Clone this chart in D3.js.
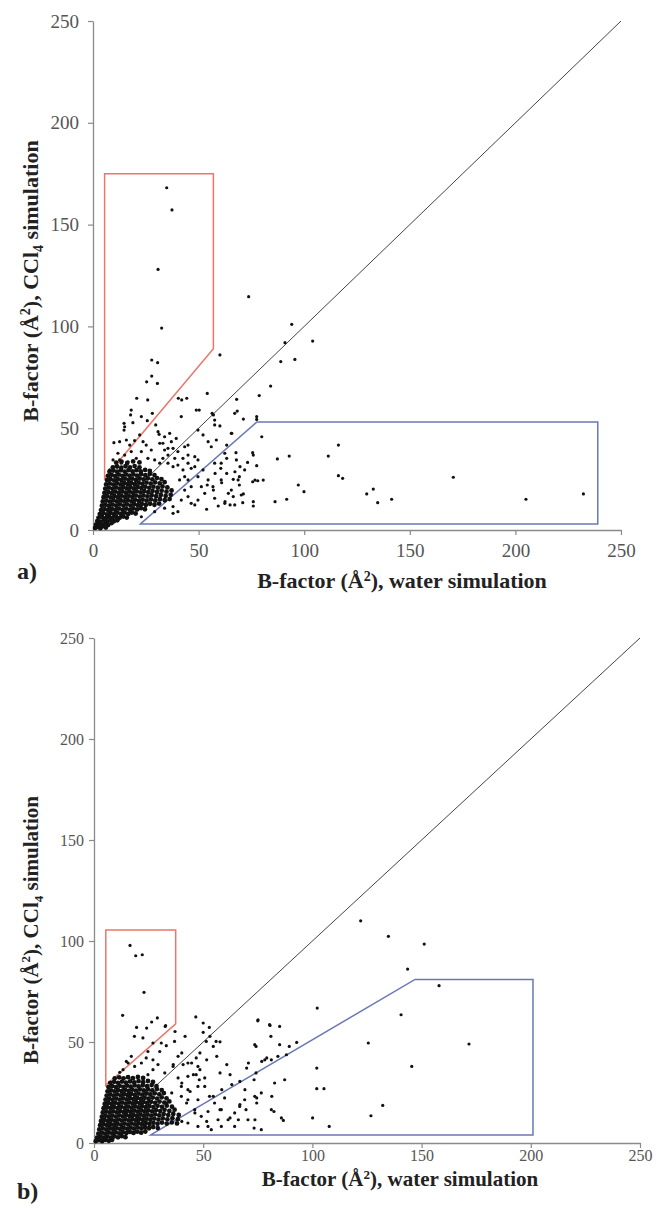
<!DOCTYPE html>
<html>
<head>
<meta charset="utf-8">
<script src="https://cdn.jsdelivr.net/npm/d3@7"></script>
<style>
  body { margin: 0; background: #fff; }
  svg { display: block; }
</style>
</head>
<body>
<div id="chart"></div>
<script>
// Tick values shared by both panels
const tickValues = [0, 50, 100, 150, 200, 250];
const diagonal = [[0, 0], [250, 250]];

// Selection regions (data units)
const redA = [[5.5, 175], [57, 175], [57, 89], [5.5, 25.5]];
const blueA = [[22.5, 3], [77.5, 53], [239, 53], [239, 3]];
const redB = [[5.4, 105.5], [37.4, 105.5], [37.4, 59], [5.4, 28.5]];
const blueB = [[26, 4], [147, 81], [201, 81], [201, 4]];

// Panel a: dense core of the cloud (water, CCl4)
const coreA = [
  [1,1],[2.2,1.5],[3.5,0.9],[4.8,1.9],[6.1,1.2],
  [1.4,2.6],[2.8,3.1],[4.2,2.4],[5.7,3.2],[7.2,2.5],[8.8,3.4],
  [2,4.4],[3.6,4.1],[5.1,4.8],[6.7,4.2],[8.3,4.9],[9.9,4.3],[11.5,4.8],
  [2.6,6],[4.3,6.4],[6,5.8],[7.6,6.5],[9.2,5.9],[10.9,6.5],[12.6,6],[14.3,6.6],[16,6.1],
  [3.2,7.8],[4.9,8.3],[6.6,7.7],[8.2,8.4],[9.9,7.8],[11.6,8.5],[13.3,7.9],[15,8.5],[16.7,7.9],[18.4,8.6],[20.2,8.1],
  [3.8,9.8],[5.5,10.3],[7.2,9.7],[8.9,10.4],[10.6,9.8],[12.3,10.5],[14,9.9],[15.7,10.5],[17.4,9.9],[19.1,10.6],[20.9,10.1],[22.7,10.7],[24.6,10.2],
  [4.2,11.9],[5.9,12.4],[7.6,11.8],[9.3,12.5],[11,11.9],[12.7,12.6],[14.4,12],[16.1,12.6],[17.8,12],[19.5,12.7],[21.3,12.2],[23.1,12.8],[25,12.3],[27,12.9],[29.1,12.4],[31.3,13],
  [4.6,14],[6.3,14.5],[8,13.9],[9.7,14.6],[11.4,14],[13.1,14.7],[14.8,14.1],[16.5,14.7],[18.2,14.1],[19.9,14.8],[21.7,14.3],[23.5,14.9],[25.4,14.4],[27.4,15],[29.5,14.5],[31.7,15.1],[34,14.6],[36.3,15.2],
  [5,16.1],[6.7,16.6],[8.4,16],[10.1,16.7],[11.8,16.1],[13.5,16.8],[15.2,16.2],[16.9,16.8],[18.6,16.2],[20.3,16.9],[22.1,16.4],[23.9,17],[25.8,16.5],[27.8,17.1],[29.9,16.6],[32.1,17.2],[34.4,16.7],[36.8,17.3],
  [5.4,18.2],[7.1,18.7],[8.8,18.1],[10.5,18.8],[12.2,18.2],[13.9,18.9],[15.6,18.3],[17.3,18.9],[19,18.3],[20.7,19],[22.5,18.5],[24.3,19.1],[26.2,18.6],[28.2,19.2],[30.3,18.7],[32.5,19.3],[34.8,18.8],[37.2,19.4],
  [5.8,20.3],[7.5,20.8],[9.2,20.2],[10.9,20.9],[12.6,20.3],[14.3,21],[16,20.4],[17.7,21],[19.4,20.4],[21.1,21.1],[22.9,20.6],[24.7,21.2],[26.6,20.7],[28.6,21.3],[30.7,20.8],[32.9,21.4],[35.2,20.9],
  [6.2,22.4],[7.9,22.9],[9.6,22.3],[11.3,23],[13,22.4],[14.7,23.1],[16.4,22.5],[18.1,23.1],[19.8,22.5],[21.6,23.2],[23.4,22.7],[25.3,23.3],[27.3,22.8],[29.4,23.4],[31.6,22.9],[33.9,23.5],
  [6.6,24.5],[8.3,25],[10,24.4],[11.7,25.1],[13.4,24.5],[15.1,25.2],[16.8,24.6],[18.5,25.2],[20.3,24.6],[22.1,25.3],[24,24.8],[26,25.4],[28.1,24.9],[30.3,25.5],[32.4,25],
  [7.1,26.6],[8.8,27.1],[10.5,26.5],[12.2,27.2],[13.9,26.6],[15.6,27.3],[17.3,26.7],[19.1,27.3],[20.9,26.7],[22.8,27.4],[24.8,26.9],[26.9,27.5],[29.1,27],
  [7.8,28.7],[9.6,29.2],[11.4,28.6],[13.2,29.3],[15,28.7],[16.8,29.4],[18.7,28.8],[20.6,29.4],[22.6,28.8],[24.7,29.5],[26.9,29],
  [9.4,30.8],[11.4,31.2],[13.4,30.6],[15.4,31.3],[17.5,30.7],[19.7,31.4],[22,30.8],
  [11,33.1],[13.5,33.6],[16.2,32.9],[19,33.7],[22,33.2]
];

// Panel a: individual points outside the core
const pointsA = [
  [34.9,168.1],[37.4,157.2],[30.8,128],[73.7,114.6],[32.5,99.2],[60.1,86],[27.8,83.5],[30.6,82.2],
  [25.4,72.8],[30.5,72],[27.8,75.6],[20.7,64.7],[25.9,63.9],[40.4,64.7],[44.4,64.7],[42,63.9],
  [54.1,67.1],[68,64.2],[68.3,58.4],[78.7,66],[84.1,70.7],[88.9,82.7],[95.6,83.8],[90.9,92],
  [94.1,101],[104,92.8],[79.9,45.8],[87.3,34.9],[92.9,36.3],[111.4,36.3],[97.2,22.1],[99.9,18.8],
  [86.2,13.9],[91.7,15.1],[76.7,24.5],[80.6,24.5],[75.9,36.8],[77.5,55.7],[77.5,54.3],[71.2,54.5],
  [116.2,41.7],[116.2,26.7],[118.2,25.4],[170.6,25.9],[129.6,17.7],[132.7,20.1],[134.8,13.4],[141.4,15.1],
  [205,15.1],[232.2,17.7],[78,24.2],[75.6,23.7],[75.6,38],[77.5,31.6],[73.2,33.2],[71.2,17.7],
  [75.9,13.9],[75.9,11.8],[67.7,38],[65.7,47.5],[57,56.5],[60.1,51.1],[63.3,41.7],[69.6,31.1],
  [69.3,26.2],[69.3,22.1],[67.2,28.6],[66.4,24.9],[63.3,35.2],[63.3,27.8],[60.5,30.3],[60.9,23.2],
  [57.8,27.8],[57,19.6],[54.1,22.1],[64.1,18],[66.4,16.4],[62.5,13.9],[59.3,11.8],[64.9,12.3],
  [70.9,13.4],[53.8,10.2],[18.1,58.9],[17.8,56.5],[14.7,52.4],[15,50.7],[14.7,49.1],[18.9,52.7],
  [22.9,55.7],[25.7,53.7],[28.1,57.3],[29.7,51.6],[41.8,55.7],[48.9,58.9],[36.3,47.5],[30.8,48.3],
  [31.3,47],[9.9,42.9],[12.6,43.4],[15.8,44.2],[17.4,41.7],[19.7,43.9],[22.1,46.7],[23.7,43.4],
  [43.4,40.9],[45,41.7],[49.7,49.1],[52.1,46.7],[54.5,43.4],[56,40.9],[58.4,44.2],[57.6,51.6],
  [65.5,47.5],[67.1,57.3],[57.6,54],[45,32.8],[48.2,31.1],[49.7,34.4],[52.1,29.5],[54.5,24.6],
  [56.8,21.3],[51.3,21.3],[52.9,18],[57.6,15.6],[48.2,12.3],[62.4,13.1],[67.1,12.3],[70.2,17.2],
  [65.5,19.6],[60.7,24.6],[68.7,24.6],[71.8,29.5],[60.7,32.8],[62.4,37.7],[67.9,34.4],[57.6,32.8],
  [37.9,8.2],[22.9,6.5],[37.9,40.1],[40.2,38.5],[35.5,36.8],[38.7,35.2],[42.6,35.2],[45,36.8],
  [33.9,39.3],[46.5,30.3],[33.9,45.8],[37.1,43.4],[31.6,42.6],[39.4,45],[9.5,34.4],[11.8,37.7],
  [13.4,32.8],[7.9,29.5],[15,36.8],[29.2,34.4],[31.6,32.8],[33.1,35.2],[35.5,32.8],[37.9,31.1],
  [40.2,31.9],[42.6,29.5],[43.4,26.2],[41,24.6],[45,24.6],[46.5,21.3],[43.4,19.6],[45,16.4],
  [41.8,14.7],[46.5,13.1],[49.7,14.7],[49.7,26.2],[48.2,36],[35.5,40.1],[33.1,42.6],[27.6,39.3],
  [25.2,41.7],[22.9,38.5],[20.5,35.2],[26,35.2],[18.1,38.5],[16.6,33.5],[12.6,34.4],[37.9,11.5],
  [33.9,10.7],[29.2,9],[40.2,9],[50.3,58.9],[56.4,57.3]
];

// Panel b: dense core
const coreB = [
  [0.8,0.9],[2.2,1.4],[3.7,0.9],[5.2,1.5],[6.8,1.1],[8.3,1.6],
  [1.4,2.6],[3,3.1],[4.6,2.6],[6.2,3.2],[7.8,2.7],[9.4,3.3],[11,2.8],[12.7,3.4],[14.4,2.9],
  [2,4.6],[3.6,5.1],[5.2,4.6],[6.8,5.2],[8.4,4.7],[10,5.3],[11.6,4.8],[13.2,5.4],[14.8,4.9],[16.4,5.5],[18.1,5],[19.8,5.6],[21.6,5.1],[23.5,5.7],
  [2.4,6.7],[4,7.2],[5.6,6.7],[7.2,7.3],[8.8,6.8],[10.4,7.4],[12,6.9],[13.6,7.5],[15.2,7],[16.8,7.6],[18.4,7.1],[20,7.7],[21.7,7.2],[23.4,7.8],[25.2,7.3],[27.1,7.9],[29.2,7.4],
  [2.8,8.8],[4.4,9.3],[6,8.8],[7.6,9.4],[9.2,8.9],[10.8,9.5],[12.4,9],[14,9.6],[15.6,9.1],[17.2,9.7],[18.8,9.2],[20.4,9.8],[22,9.3],[23.7,9.9],[25.4,9.4],[27.2,10],[29.1,9.5],[31.1,10.1],[33.3,9.6],[35.6,10.2],[38,9.7],
  [3.2,10.9],[4.8,11.4],[6.4,10.9],[8,11.5],[9.6,11],[11.2,11.6],[12.8,11.1],[14.4,11.7],[16,11.2],[17.6,11.8],[19.2,11.3],[20.8,11.9],[22.4,11.4],[24.1,12],[25.8,11.5],[27.6,12.1],[29.5,11.6],[31.5,12.2],[33.6,11.7],[35.9,12.3],[38.4,11.8],
  [3.6,13],[5.2,13.5],[6.8,13],[8.4,13.6],[10,13.1],[11.6,13.7],[13.2,13.2],[14.8,13.8],[16.4,13.3],[18,13.9],[19.6,13.4],[21.2,14],[22.8,13.5],[24.5,14.1],[26.2,13.6],[28,14.2],[29.9,13.7],[31.9,14.3],[34,13.8],[36.3,14.4],[38.8,13.9],
  [4,15.1],[5.6,15.6],[7.2,15.1],[8.8,15.7],[10.4,15.2],[12,15.8],[13.6,15.3],[15.2,15.9],[16.8,15.4],[18.4,16],[20,15.5],[21.6,16.1],[23.2,15.6],[24.9,16.2],[26.6,15.7],[28.4,16.3],[30.3,15.8],[32.3,16.4],[34.5,15.9],[36.9,16.5],
  [4.4,17.2],[6,17.7],[7.6,17.2],[9.2,17.8],[10.8,17.3],[12.4,17.9],[14,17.4],[15.6,18],[17.2,17.5],[18.8,18.1],[20.4,17.6],[22,18.2],[23.7,17.7],[25.4,18.3],[27.2,17.8],[29.1,18.4],[31.1,17.9],[33.3,18.5],[35.7,18],
  [4.9,19.3],[6.5,19.8],[8.1,19.3],[9.7,19.9],[11.3,19.4],[12.9,20],[14.5,19.5],[16.1,20.1],[17.7,19.6],[19.3,20.2],[20.9,19.7],[22.6,20.3],[24.3,19.8],[26.1,20.4],[28,19.9],[30,20.5],[32.2,20],[34.5,20.6],
  [5.3,21.4],[6.9,21.9],[8.5,21.4],[10.1,22],[11.7,21.5],[13.3,22.1],[14.9,21.6],[16.5,22.2],[18.1,21.7],[19.8,22.3],[21.5,21.8],[23.2,22.4],[25,21.9],[26.9,22.5],[28.9,22],[31,22.6],[33.2,22.1],
  [5.8,23.5],[7.4,24],[9,23.5],[10.6,24.1],[12.2,23.6],[13.8,24.2],[15.4,23.7],[17,24.3],[18.7,23.8],[20.4,24.4],[22.1,23.9],[23.9,24.5],[25.8,24],[27.8,24.6],[29.9,24.1],[32,24.7],
  [6.2,25.6],[7.8,26.1],[9.4,25.6],[11,26.2],[12.6,25.7],[14.2,26.3],[15.8,25.8],[17.5,26.4],[19.2,25.9],[21,26.5],[22.8,26],[24.7,26.6],[26.7,26.1],[28.8,26.7],[31,26.2],
  [6.6,27.7],[8.3,28.2],[10,27.7],[11.7,28.3],[13.4,27.8],[15.1,28.4],[16.8,27.9],[18.6,28.5],[20.4,28],[22.3,28.6],[24.3,28.1],[26.4,28.7],[28.6,28.2],
  [7.4,29.8],[9.2,30.3],[11,29.8],[12.8,30.4],[14.6,29.9],[16.5,30.5],[18.4,30],[20.4,30.6],[22.5,30.1],[24.7,30.7],[27,30.2],
  [9.5,32],[11.5,32.5],[13.5,32],[15.6,32.6],[17.8,32.1],[20.1,32.7],[22.5,32.2]
];

// Panel b: individual points outside the core
const pointsB = [
  [122.1,110],[134.8,102.3],[151.2,98.5],[143.6,86.1],[158,77.9],[102.2,66.8],[140.6,63.5],[125.6,49.5],
  [171.7,49],[102,37.1],[145.5,37.9],[102,26.9],[105.3,26.9],[132.2,18.6],[126.8,13.5],[100.1,12.4],
  [107.7,8.2],[16.5,97.8],[19.1,92.7],[22.1,93.2],[22.9,74.6],[13.1,63.2],[19.5,57.2],[24.1,56.9],
  [26.4,59.9],[29,61.9],[32.8,58.1],[18.5,52.8],[46.6,62.4],[37.1,55.2],[41.7,52.8],[50,59.4],
  [52.8,57.2],[50,54.8],[53.1,52.8],[55.9,50.3],[57.7,50.1],[75,60.5],[80.6,58.2],[81,52.8],
  [74.2,47.8],[89.4,47.8],[92.8,49.8],[79.1,42.1],[76.8,40.4],[70.7,39.6],[69.9,37.1],[74.2,34.7],
  [73.3,31.3],[66.8,30.5],[69.1,26.4],[66.8,19],[69.6,16.5],[74.5,22.3],[74.5,19.8],[81.4,23.1],
  [82.4,15.6],[86.7,11.2],[73.7,11.5],[73.3,7.4],[66.1,11.5],[62.3,12.4],[57.7,16.5],[54.6,23.1],
  [58.5,26.4],[63.1,28.9],[62.3,33.8],[57.7,34.7],[60.8,38.8],[56.2,42.9],[51.6,41.2],[48.5,36.3],
  [48.2,31.3],[45.5,33.8],[44,25.5],[42.4,19.8],[46.2,14.9],[51.6,10.7],[40.2,10.7],[36.3,14.9],
  [33.3,19.8],[35.6,24.8],[40.2,29.7],[36.3,38.8],[40.2,44.6],[44.7,39.6],[48.5,44.6],[54.6,47.8],
  [32.6,57.7],[22.4,52],[36.9,50.3],[51.4,50.3],[30.8,49.5],[33.1,48.2],[27,49.5],[24.7,45.3],
  [30.1,45.3],[27,41.2],[29.3,38.8],[17.1,42.9],[14.8,40.4],[15.6,39.6],[13.3,36.3],[11.8,35],
  [18.6,37.9],[21.7,39.6],[23.9,42.1],[27,36.3],[32.4,34.7],[24.7,33.8],[38.5,42.9],[40.8,38.8],
  [43,39.6],[36.2,37.9],[46.8,42.1],[47.6,37.9],[50.7,32.2],[46.8,33.8],[43,33],[38.5,32.2],
  [40,28],[43,26.4],[47.6,28],[50.7,28],[52.9,23.1],[47.6,21.4],[43,21.4],[40,23.1],
  [46.1,16.5],[49.1,13.2],[52.2,15.6],[55.2,19.8],[58.3,16.5],[59.8,22.3],[61.4,11.5],[56.8,11.5],
  [64.4,14.9],[66.7,18.1],[69,21.4],[73.6,23.1],[76.6,24.8],[70.5,11.5],[64.4,8.2],[58.3,8.2],
  [52.2,8.2],[47.6,8.2],[43,9.9],[53.7,6.6],[73.6,48.7],[78.2,41.2],[81.2,41.2],[84.2,42.9],
  [80.4,58.6],[85,48.7],[75.1,61],[85,57.7],[88.1,43.7],[81.2,16.5],[85.8,12.4],[87.3,31.3],
  [82.7,29.7],[76.6,6.6]
];

const width = 656, height = 1209;
const serif = '"Liberation Serif", "Times New Roman", Times, serif';

const svg = d3.select('#chart')
  .append('svg')
  .attr('width', width)
  .attr('height', height)
  .style('font-family', serif);

svg.append('rect').attr('width', width).attr('height', height).attr('fill', '#fff');

// Panel layouts (pixels)
const panels = [
  { left: 93, right: 621, bottom: 530, top: 21, tickFont: 19, xPad: 9, yPad: 9,
    titleFont: 22, xTitleX: 402, xTitleY: 588, yTitleX: 38, yTitleY: 281, tag: 'a)', tagY: 579,
    core: coreA, pts: pointsA, red: redA, blue: blueA },
  { left: 94, right: 640, bottom: 1143, top: 638, tickFont: 16, xPad: 2, yPad: 5,
    titleFont: 21, xTitleX: 400, xTitleY: 1186, yTitleX: 38, yTitleY: 930, tag: 'b)', tagY: 1199,
    core: coreB, pts: pointsB, red: redB, blue: blueB }
];

const drawPanel = (p) => {
  const xScale = d3.scaleLinear().domain([0, 250]).range([p.left, p.right]);
  const yScale = d3.scaleLinear().domain([0, 250]).range([p.bottom, p.top]);

  // Axes
  const gx = svg.append('g')
    .attr('transform', `translate(0, ${p.bottom})`)
    .call(d3.axisBottom(xScale).tickValues(tickValues).tickSize(5).tickSizeOuter(0).tickPadding(p.xPad));
  const gy = svg.append('g')
    .attr('transform', `translate(${p.left}, 0)`)
    .call(d3.axisLeft(yScale).tickValues(tickValues).tickSize(5).tickSizeOuter(0).tickPadding(p.yPad));
  [gx, gy].forEach(g => {
    g.select('.domain').attr('stroke', '#8a8a8a').attr('stroke-width', 1.3);
    g.selectAll('.tick line').attr('stroke', '#8a8a8a').attr('stroke-width', 1.2);
    g.selectAll('.tick text')
      .attr('fill', '#555')
      .attr('font-size', p.tickFont)
      .attr('font-family', serif);
  });

  const line = d3.line().x(d => xScale(d[0])).y(d => yScale(d[1]));

  // y = x reference line
  svg.append('path')
    .attr('d', line(diagonal))
    .attr('fill', 'none')
    .attr('stroke', '#444')
    .attr('stroke-width', 1);

  // Selection boxes
  svg.append('path')
    .attr('d', line(p.red) + 'Z')
    .attr('fill', 'none')
    .attr('stroke', '#e8786c')
    .attr('stroke-width', 1.5);
  svg.append('path')
    .attr('d', line(p.blue) + 'Z')
    .attr('fill', 'none')
    .attr('stroke', '#6a78b6')
    .attr('stroke-width', 1.5);

  // Points
  svg.append('g').selectAll('circle')
    .data(p.core)
    .join('circle')
      .attr('cx', d => xScale(d[0]))
      .attr('cy', d => yScale(d[1]))
      .attr('r', 2.4)
      .attr('fill', '#111');
  svg.append('g').selectAll('circle')
    .data(p.pts)
    .join('circle')
      .attr('cx', d => xScale(d[0]))
      .attr('cy', d => yScale(d[1]))
      .attr('r', 1.6)
      .attr('fill', '#111');

  // Axis titles
  const sup = Math.round(p.titleFont * 0.64);
  const xt = svg.append('text')
    .attr('x', p.xTitleX).attr('y', p.xTitleY)
    .attr('text-anchor', 'middle')
    .attr('font-weight', 'bold')
    .attr('font-size', p.titleFont)
    .attr('fill', '#222');
  xt.append('tspan').text('B-factor (Å');
  xt.append('tspan').attr('font-size', sup).attr('dy', -7).text('2');
  xt.append('tspan').attr('dy', 7).text('), water simulation');

  const yt = svg.append('text')
    .attr('transform', `translate(${p.yTitleX}, ${p.yTitleY}) rotate(-90)`)
    .attr('text-anchor', 'middle')
    .attr('font-weight', 'bold')
    .attr('font-size', p.titleFont)
    .attr('fill', '#222');
  yt.append('tspan').text('B-factor (Å');
  yt.append('tspan').attr('font-size', sup).attr('dy', -8).text('2');
  yt.append('tspan').attr('dy', 8).text('), CCl');
  yt.append('tspan').attr('font-size', sup).attr('dy', 5).text('4');
  yt.append('tspan').attr('dy', -5).text(' simulation');

  // Panel tag
  svg.append('text')
    .attr('x', 17).attr('y', p.tagY)
    .attr('font-weight', 'bold')
    .attr('font-size', 24)
    .attr('fill', '#222')
    .text(p.tag);
};

panels.forEach(drawPanel);
</script>
</body>
</html>
